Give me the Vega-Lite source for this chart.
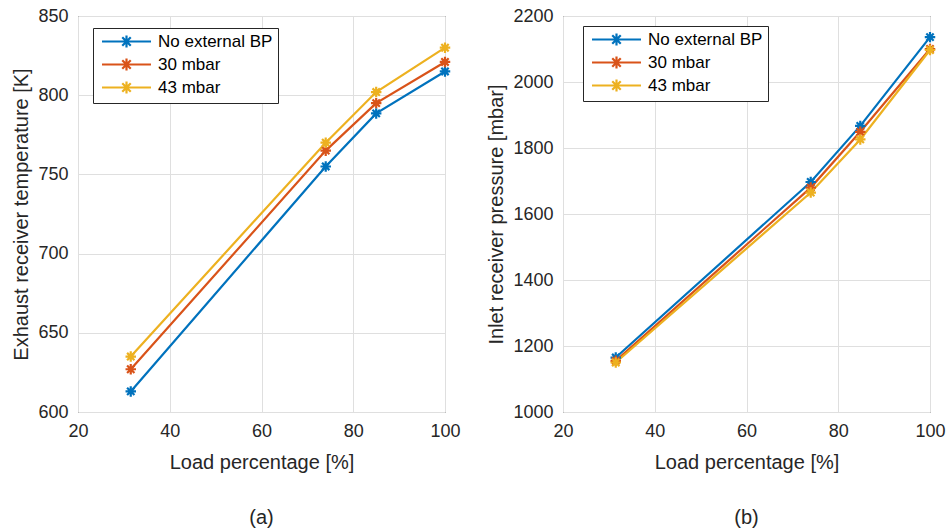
{
  "$schema": "https://vega.github.io/schema/vega-lite/v6.json",
  "padding": {"left": 11, "top": 6, "right": 5, "bottom": 2},
  "background": "white",
  "bounds": "flush",
  "spacing": 118,
  "config": {
    "font": "Liberation Sans",
    "view": {"stroke": "#262626", "strokeWidth": 1},
    "axis": {
      "labelFont": "Liberation Sans",
      "titleFont": "Liberation Sans",
      "labelFontSize": 18,
      "titleFontSize": 20,
      "titleFontWeight": "normal",
      "labelColor": "#262626",
      "titleColor": "#262626",
      "gridColor": "#dfdfdf",
      "gridWidth": 1,
      "domain": false,
      "ticks": false,
      "labelPadding": 10,
      "labelFlush": false,
      "labelOverlap": false,
      "format": "d"
    },
    "legend": {
      "labelFont": "Liberation Sans",
      "labelFontSize": 17,
      "labelColor": "#000000",
      "strokeColor": "#262626",
      "fillColor": "white",
      "padding": 5,
      "rowPadding": 2,
      "labelOffset": 23,
      "symbolOffset": 20,
      "title": null,
      "orient": "none",
      "symbolType": "M-4.08,0L4.08,0M0,-1L0,1M-0.707,-0.707L0.707,0.707M-0.707,0.707L0.707,-0.707",
      "symbolSize": 144,
      "symbolStrokeWidth": 2.2,
      "symbolFillColor": "transparent"
    },
    "title": {"font": "Liberation Sans", "fontSize": 20, "fontWeight": "normal", "color": "#262626"}
  },
  "datasets": {
    "temp": [
      {"load": 31.5, "series": "No external BP", "value": 613},
      {"load": 74, "series": "No external BP", "value": 755},
      {"load": 85, "series": "No external BP", "value": 788.5},
      {"load": 100, "series": "No external BP", "value": 815},
      {"load": 31.5, "series": "30 mbar", "value": 627},
      {"load": 74, "series": "30 mbar", "value": 765},
      {"load": 85, "series": "30 mbar", "value": 795},
      {"load": 100, "series": "30 mbar", "value": 821},
      {"load": 31.5, "series": "43 mbar", "value": 635},
      {"load": 74, "series": "43 mbar", "value": 770},
      {"load": 85, "series": "43 mbar", "value": 802},
      {"load": 100, "series": "43 mbar", "value": 830}
    ],
    "pres": [
      {"load": 31.5, "series": "No external BP", "value": 1165},
      {"load": 74, "series": "No external BP", "value": 1697},
      {"load": 84.8, "series": "No external BP", "value": 1867},
      {"load": 100, "series": "No external BP", "value": 2136},
      {"load": 31.5, "series": "30 mbar", "value": 1155},
      {"load": 74, "series": "30 mbar", "value": 1680},
      {"load": 84.8, "series": "30 mbar", "value": 1849},
      {"load": 100, "series": "30 mbar", "value": 2100},
      {"load": 31.5, "series": "43 mbar", "value": 1150},
      {"load": 74, "series": "43 mbar", "value": 1665},
      {"load": 84.8, "series": "43 mbar", "value": 1826},
      {"load": 100, "series": "43 mbar", "value": 2097}
    ]
  },
  "resolve": {"legend": {"color": "independent"}, "scale": {"y": "independent"}},
  "hconcat": [
    {
      "width": 367,
      "height": 396,
      "data": {"name": "temp"},
      "title": {"text": "(a)", "orient": "bottom", "frame": "group", "anchor": "middle", "offset": 36},
      "encoding": {
        "x": {"field": "load", "type": "quantitative", "title": "Load percentage [%]",
              "scale": {"domain": [20, 100], "nice": false},
              "axis": {"values": [20, 40, 60, 80, 100], "titlePadding": 12}},
        "y": {"field": "value", "type": "quantitative", "title": "Exhaust receiver temperature [K]",
              "scale": {"domain": [600, 850], "nice": false},
              "axis": {"values": [600, 650, 700, 750, 800, 850], "titlePadding": 6}},
        "color": {"field": "series", "type": "nominal",
                  "scale": {"domain": ["No external BP", "30 mbar", "43 mbar"], "range": ["#0072BD", "#D95319", "#EDB120"]},
                  "legend": {"legendX": 15, "legendY": 12}}
      },
      "layer": [
        {"mark": {"type": "line", "strokeWidth": 2.2}},
        {"mark": {"type": "point", "shape": "M-1,0L1,0M0,-1L0,1M-0.7,-0.7L0.7,0.7M-0.7,0.7L0.7,-0.7", "size": 110, "strokeWidth": 2.2, "filled": false, "opacity": 1}}
      ]
    },
    {
      "width": 367,
      "height": 396,
      "data": {"name": "pres"},
      "title": {"text": "(b)", "orient": "bottom", "frame": "group", "anchor": "middle", "offset": 36},
      "encoding": {
        "x": {"field": "load", "type": "quantitative", "title": "Load percentage [%]",
              "scale": {"domain": [20, 100], "nice": false},
              "axis": {"values": [20, 40, 60, 80, 100], "titlePadding": 12}},
        "y": {"field": "value", "type": "quantitative", "title": "Inlet receiver pressure [mbar]",
              "scale": {"domain": [1000, 2200], "nice": false},
              "axis": {"values": [1000, 1200, 1400, 1600, 1800, 2000, 2200], "titlePadding": 6}},
        "color": {"field": "series", "type": "nominal",
                  "scale": {"domain": ["No external BP", "30 mbar", "43 mbar"], "range": ["#0072BD", "#D95319", "#EDB120"]},
                  "legend": {"legendX": 20, "legendY": 10}}
      },
      "layer": [
        {"mark": {"type": "line", "strokeWidth": 2.2}},
        {"mark": {"type": "point", "shape": "M-1,0L1,0M0,-1L0,1M-0.7,-0.7L0.7,0.7M-0.7,0.7L0.7,-0.7", "size": 110, "strokeWidth": 2.2, "filled": false, "opacity": 1}}
      ]
    }
  ]
}
